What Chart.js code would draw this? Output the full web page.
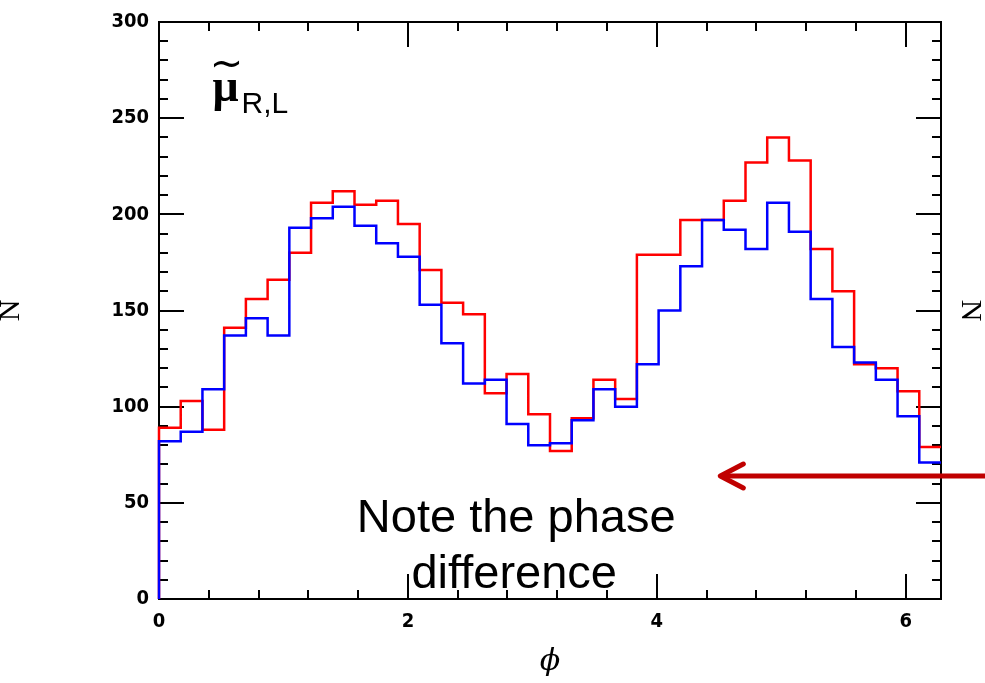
<!DOCTYPE html>
<html><head><meta charset="utf-8">
<script src="https://cdn.jsdelivr.net/npm/chart.js@4"></script>
<style>html,body{margin:0;padding:0;background:#fff;overflow:hidden}#wrap{position:relative;width:985px;height:683px}</style>
</head><body><div id="wrap"><canvas id="c" width="985" height="683"></canvas></div>
<script>
// ---- data ----
const PHI_MAX = 2 * Math.PI;           // x range 0 .. 2π, 36 equal bins
const redCounts  = [89,103,88,141,156,166,180,206,212,205,207,195,171,154,148,107,117,96,77,94,114,104,179,179,197,197,207,227,240,228,182,160,122,120,108,79];
const blueCounts = [82,87,109,137,146,137,193,198,204,194,185,178,153,133,112,114,91,80,81,93,109,100,122,150,173,197,192,182,206,191,156,131,123,114,95,71];
const xTickValues = [0,2,4,6];
const yTickValues = [0,50,100,150,200,250,300];
const xMinorStep = 0.4, xMajorStep = 2;
const yMinorStep = 10, yMajorStep = 50;
const xTitle = 'ϕ', yTitle = 'N';
const noteLines = ['Note the phase', 'difference'];
const particleLabel = {base: 'μ', accent: '~', sub: 'R,L'};

function histPoints(counts) {
  const w = PHI_MAX / counts.length;
  const pts = [{x: 0, y: 0}];
  counts.forEach((v, i) => pts.push({x: i * w, y: v}));
  pts.push({x: PHI_MAX, y: counts[counts.length - 1]});
  return pts;
}

const tickFont = {family: "'DejaVu Sans Condensed','DejaVu Sans',sans-serif", weight: 'bold', size: 20};

const framePlugin = {
  id: 'frame',
  beforeDatasetsDraw(chart) {
    const {ctx, chartArea: a, scales: {x, y}} = chart;
    ctx.save();
    ctx.strokeStyle = '#000';
    ctx.lineWidth = 2;
    ctx.strokeRect(a.left, a.top, a.right - a.left, a.bottom - a.top);
    ctx.beginPath();
    for (let i = 0; i * xMinorStep <= PHI_MAX + 1e-9; i++) {
      const v = i * xMinorStep;
      const r = v / xMajorStep;
      const len = Math.abs(r - Math.round(r)) < 1e-6 ? 25 : 9;
      const px = Math.round(x.getPixelForValue(v));
      ctx.moveTo(px, a.bottom); ctx.lineTo(px, a.bottom - len);
      ctx.moveTo(px, a.top); ctx.lineTo(px, a.top + len);
    }
    for (let i = 0; i * yMinorStep <= y.max + 1e-9; i++) {
      const v = i * yMinorStep;
      const len = (v % yMajorStep === 0) ? 25 : 9;
      const py = Math.round(y.getPixelForValue(v));
      ctx.moveTo(a.left, py); ctx.lineTo(a.left + len, py);
      ctx.moveTo(a.right, py); ctx.lineTo(a.right - len, py);
    }
    ctx.stroke();
    ctx.restore();
  }
};

const annotPlugin = {
  id: 'annot',
  afterDraw(chart) {
    const {ctx, scales: {x, y}} = chart;
    ctx.save();
    ctx.fillStyle = '#000';
    // particle label (anchored in data units)
    const lx = x.getPixelForValue(0.43), ly = y.getPixelForValue(259);
    ctx.textBaseline = 'alphabetic';
    ctx.textAlign = 'left';
    ctx.font = "bold 46px 'Liberation Serif'";
    ctx.fillText(particleLabel.base, lx, ly);
    ctx.textAlign = 'center';
    ctx.font = "40px 'DejaVu Sans'";
    ctx.fillText(particleLabel.accent, lx + 14, ly - 24);
    ctx.textAlign = 'left';
    ctx.font = "30px 'Liberation Sans'";
    ctx.fillText(particleLabel.sub, lx + 29, ly + 12);
    // note
    ctx.textAlign = 'center';
    ctx.font = "47px 'Liberation Sans'";
    const nx = x.getPixelForValue(2.87);
    ctx.fillText(noteLines[0], nx, y.getPixelForValue(35));
    ctx.fillText(noteLines[1], nx - 2, y.getPixelForValue(5.6));
    // arrow
    const ay = Math.round(y.getPixelForValue(64));
    const tip = x.getPixelForValue(4.51);
    ctx.strokeStyle = '#c00000';
    ctx.lineWidth = 5;
    ctx.lineCap = 'round';
    ctx.lineJoin = 'round';
    ctx.beginPath();
    ctx.moveTo(chart.width + 5, ay); ctx.lineTo(tip + 2, ay);
    ctx.stroke();
    ctx.beginPath();
    ctx.moveTo(tip + 23, ay - 12); ctx.lineTo(tip, ay); ctx.lineTo(tip + 23, ay + 12);
    ctx.stroke();
    ctx.restore();
  }
};

new Chart(document.getElementById('c'), {
  type: 'line',
  data: {
    datasets: [
      {label: 'blue', data: histPoints(blueCounts), borderColor: '#0000ff', borderWidth: 2.5, stepped: 'before', pointRadius: 0, fill: false, clip: false},
      {label: 'red', data: histPoints(redCounts), borderColor: '#ff0000', borderWidth: 2.5, stepped: 'before', pointRadius: 0, fill: false, clip: false}
    ]
  },
  options: {
    responsive: false, animation: false, devicePixelRatio: 1,
    layout: {padding: {left: 0, right: 0, top: 16, bottom: 0}},
    plugins: {legend: {display: false}, tooltip: {enabled: false}},
    scales: {
      x: {
        type: 'linear', min: 0, max: PHI_MAX,
        afterBuildTicks(s) { s.ticks = xTickValues.map(v => ({value: v})); },
        afterFit(s) { s.height = 84; },
        grid: {display: false, drawTicks: false}, border: {display: false},
        ticks: {font: tickFont, color: '#000', padding: 11, maxRotation: 0, autoSkip: false, callback: v => String(v)},
        title: {display: true, text: xTitle, color: '#000', font: {family: "'DejaVu Serif'", style: 'italic', size: 30, lineHeight: 1.2}, padding: {top: 0, bottom: 3}}
      },
      y: {
        type: 'linear', position: 'left', min: 0, max: 300,
        afterBuildTicks(s) { s.ticks = yTickValues.map(v => ({value: v})); },
        afterFit(s) { s.width = 159; },
        grid: {display: false, drawTicks: false}, border: {display: false},
        ticks: {font: tickFont, color: '#000', padding: 10, autoSkip: false},
        title: {display: true, text: yTitle, color: '#000', font: {family: "'Liberation Serif'", size: 30, lineHeight: 0.75}, padding: 0}
      },
      y2: {
        type: 'linear', position: 'right', min: 0, max: 300,
        afterFit(s) { s.width = 44; },
        grid: {display: false, drawTicks: false}, border: {display: false},
        ticks: {display: false},
        title: {display: true, text: yTitle, color: '#000', font: {family: "'Liberation Serif'", size: 30, lineHeight: 1.0}, padding: 0}
      }
    }
  },
  plugins: [framePlugin, annotPlugin]
});
</script></body></html>
